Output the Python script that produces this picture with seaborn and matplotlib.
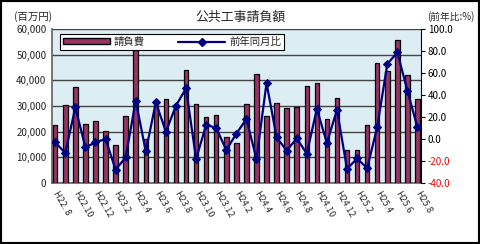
import matplotlib
matplotlib.use("Agg")
import matplotlib.pyplot as plt
import seaborn as sns
import pandas as pd
import numpy as np
from matplotlib.patches import Rectangle, Patch
from matplotlib.lines import Line2D

months = [
    "H22.8", "H22.9", "H22.10", "H22.11", "H22.12", "H23.1", "H23.2", "H23.3", "H23.4",
    "H23.5", "H23.6", "H23.7", "H23.8", "H23.9", "H23.10", "H23.11", "H23.12", "H24.1",
    "H24.2", "H24.3", "H24.4", "H24.5", "H24.6", "H24.7", "H24.8", "H24.9", "H24.10",
    "H24.11", "H24.12", "H25.1", "H25.2", "H25.3", "H25.4", "H25.5", "H25.6", "H25.7", "H25.8",
]
contract = [
    22600, 30400, 37500, 23000, 24100, 20300, 14900, 26100, 51800, 17300,
    31800, 32800, 30400, 44100, 30700, 25800, 26300, 17800, 15400, 30700,
    42400, 26100, 31000, 29100, 29700, 37700, 38800, 24800, 33100, 12800,
    12800, 22600, 46600, 43700, 55600, 42000, 32600,
]
yoy = [
    -3.1, -12.7, 28.7, -7.6, -3.1, 0.0, -27.9, -16.7, 34.8, -11.2,
    33.3, 6.6, 30.3, 46.0, -18.2, 13.0, 10.0, -10.0, 4.8, 18.2,
    -18.2, 50.9, 1.5, -10.6, 0.6, -13.4, 27.3, -3.6, 26.6, -27.3,
    -17.6, -26.7, 10.9, 68.2, 78.7, 43.9, 10.5,
]
tick_labels = ["H22. 8", "H22.10", "H22.12", "H23.2", "H23.4", "H23.6", "H23.8", "H23.10",
               "H23.12", "H24.2", "H24.4", "H24.6", "H24.8", "H24.10", "H24.12", "H25.2",
               "H25.4", "H25.6", "H25.8"]
left_ticks = [0, 10000, 20000, 30000, 40000, 50000, 60000]
right_ticks = [-40, -20, 0, 20, 40, 60, 80, 100]

sns.set_theme(style="white")
plt.rcParams["font.family"] = ["Noto Sans CJK JP", "DejaVu Sans"]

df = pd.DataFrame({"month": months, "contract": contract, "yoy": yoy})
df["pos"] = np.arange(len(df))

fig = plt.figure(figsize=(4.8, 2.44), dpi=100)
ax = fig.add_axes([52/480, 1-183/244, 369/480, 154/244])
ax.set_facecolor("#DCEEF4")

bar_color = "#993366"
line_color = "#000080"

sns.barplot(data=df, x="month", y="contract", color=bar_color, width=0.45,
            edgecolor="black", linewidth=0.9, saturation=1, ax=ax, zorder=3)
ax.set_ylim(0, 60000)
ax.set_xlim(-0.32, 36.35)
ax.set_yticks(left_ticks)
ax.set_yticklabels([f"{v:,}" for v in left_ticks], fontsize=7)
ax.yaxis.grid(True, color="#444444", linewidth=1.0, zorder=1)
ax.set_axisbelow(True)
ax.set_xticks(np.arange(0, 37, 2))
ax.set_xticklabels(tick_labels, rotation=-60, ha="left", va="center",
                   rotation_mode="anchor", fontsize=6.5)
ax.tick_params(axis="x", length=0, pad=6)
ax.tick_params(axis="y", length=0, pad=4)
ax.set_xlabel("")
ax.set_ylabel("")
for s in ["top", "right"]:
    ax.spines[s].set_visible(False)
ax.spines["left"].set_color("#666666")
ax.spines["bottom"].set_color("#666666")

ax2 = ax.twinx()
sns.lineplot(data=df, x="pos", y="yoy", color=line_color, marker="D", markersize=4.5,
             markeredgecolor=line_color, linewidth=1.6, ax=ax2, zorder=5)
ax2.set_ylim(-40, 100)
ax2.set_xlim(-0.32, 36.35)
ax2.set_yticks(right_ticks)
ax2.set_yticklabels([f"{v:.1f}" for v in right_ticks], fontsize=7)
ax2.tick_params(axis="y", direction="out", length=3, width=0.8, pad=2, colors="black")
for lbl, v in zip(ax2.get_yticklabels(), right_ticks):
    lbl.set_color("red" if v < 0 else "black")
ax2.set_ylabel("")
ax2.set_xlabel("")
for s in ["top", "left", "bottom"]:
    ax2.spines[s].set_visible(False)
ax2.spines["right"].set_color("black")
ax2.spines["right"].set_linewidth(0.8)

handles = [Patch(facecolor=bar_color, edgecolor="black", linewidth=1.0),
           Line2D([0], [0], color=line_color, marker="D", markersize=4, linewidth=1.6)]
leg = ax2.legend(handles, ["請負費", "前年同月比"], loc="upper left",
                 bbox_to_anchor=(0.008, 1.0), ncol=2, fontsize=7.5, frameon=True,
                 fancybox=False, framealpha=1, edgecolor="black", handlelength=4.5,
                 handleheight=0.5, columnspacing=3.2, borderpad=0.25, handletextpad=0.4)
leg.get_frame().set_linewidth(0.8)

fig.text(240/480, 1-17/244, "公共工事請負額", ha="center", va="center", fontsize=9.3)
fig.text(14/480, 1-17/244, "(百万円)", ha="left", va="center", fontsize=7.5)
fig.text(474/480, 1-17/244, "(前年比:%)", ha="right", va="center", fontsize=7)

fig.patches.append(Rectangle((0, 0), 1, 1, transform=fig.transFigure, fill=False,
                             edgecolor="black", linewidth=3))

fig.savefig("out.png", dpi=100)
